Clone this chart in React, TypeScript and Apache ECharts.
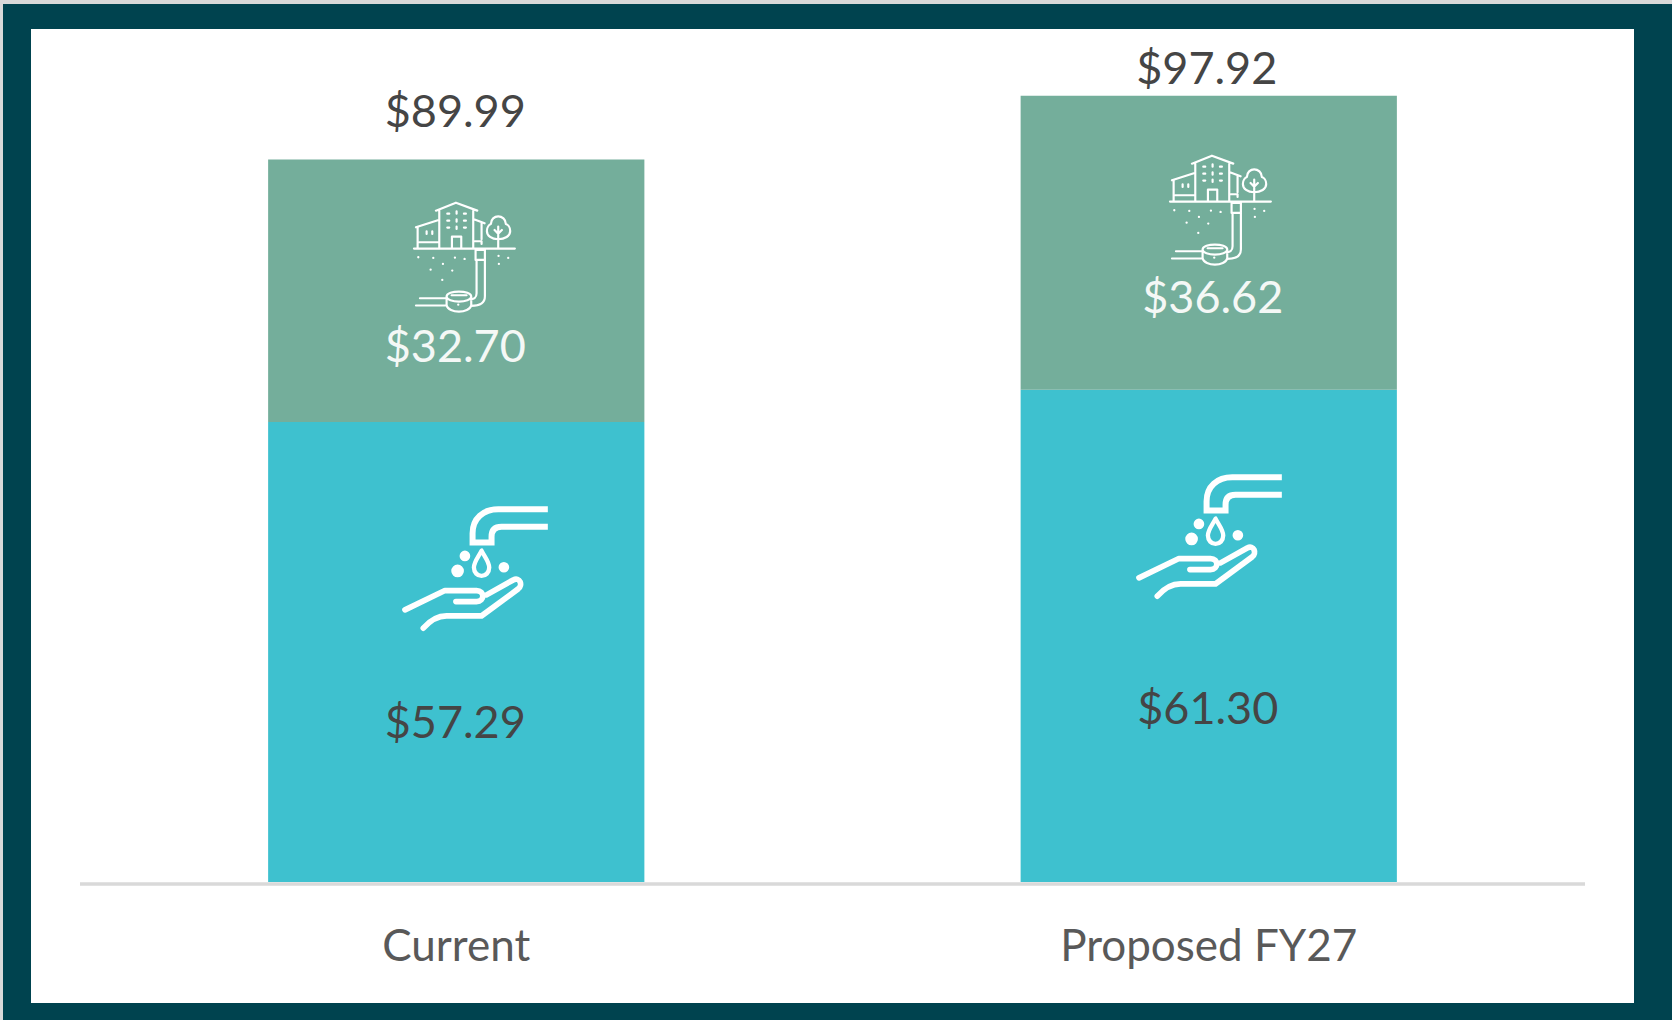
import React, { useEffect, useRef } from "react";
import * as echarts from "echarts";

const categories = ["Current", "Proposed FY27"];
const customerValues = [57.29, 61.3];
const infrastructureValues = [32.7, 36.62];
const totalValues = [89.99, 97.92];

const customerOffsets = [[-1, 69], [-1, 71]];
const infrastructureOffsets = [[-1, 54], [4, 53]];
const totalOffsets = [[-1, -21], [-2, -1]];

const money = (v: number) => "$" + v.toFixed(2);
const FONT = "Lato";
const SIZE = 45;

const dots = [
  [115, 232], [160, 234], [225, 233], [254, 237], [189, 252], [152, 269], [217, 272], [187, 300],
  [356, 228], [385, 234], [357, 252], [235, 374],
];
const circleD = (x: number, y: number, r: number) =>
  `M${x - r} ${y}a${r} ${r} 0 1 0 ${2 * r} 0a${r} ${r} 0 1 0 ${-2 * r} 0Z`;

const buildingLines =
  "M102 206H405 M168 92L228 68L292 92 M178 92V204 M280 92V204 M216 204V170H244V204 " +
  "M202 101H208 M230 94V101 M252 101H258 M202 122H208 M230 118V125 M252 122H258 M202 143H208 M230 140V147 M252 143H258 " +
  "M108 142L176 120 M113 142V204 M140 154V162 M157 154V162 M118 187H176 M282 118L314 130 M305 130V178 M285 184H305V192 " +
  "M355 205V140 M344 150L355 161L366 150 " +
  "M355 178C335 178 321 168 321 153C321 142 328 134 333 132C333 118 344 109 355 109C366 109 378 118 378 132C384 134 391 142 391 153C391 168 375 178 355 178Z " +
  "M287 210H315V240H287Z M290 240V340C290 355 282 358 268 358 M315 240V350C315 370 300 378 274 378 " +
  "M120 355H200 M108 377H200 M200 350C200 330 274 330 274 350C274 370 200 370 200 350Z M200 350V376C206 402 268 402 274 376V350 M215 346H260";
const buildingDots = dots.map(([x, y]) => circleD(x, y, 3.5)).join(" ");

const faucet = "M504 58H355C310 58 278 85 278 130V158H335V140C335 120 345 110 365 110H504";
const drop = "M305 182C295 202 282 215 282 233C282 248 293 258 305 258C317 258 328 248 328 233C328 215 315 202 305 182Z";
const hand =
  "M75 360L195 302H290C315 302 315 335 290 335H228 M320 315L400 270C420 260 430 285 415 297L305 378H200C175 378 150 392 130 415";
const tapDots = [circleD(255, 198, 16), circleD(233, 243, 19), circleD(372, 232, 16)].join(" ");

echarts.graphic.registerShape("buildingLines", echarts.graphic.extendPath(buildingLines, {}));
echarts.graphic.registerShape("buildingDots", echarts.graphic.extendPath(buildingDots, {}));
echarts.graphic.registerShape("faucet", echarts.graphic.extendPath(faucet, {}));
echarts.graphic.registerShape("drop", echarts.graphic.extendPath(drop, {}));
echarts.graphic.registerShape("hand", echarts.graphic.extendPath(hand, {}));
echarts.graphic.registerShape("tapDots", echarts.graphic.extendPath(tapDots, {}));

const S = 1 / 3;
const Z = 100;
const strokeEl = (type: string, lineWidth: number) => ({
  type, scaleX: S, scaleY: S, silent: true, z: Z,
  style: { fill: "none", stroke: "#ffffff", lineWidth, lineCap: "round", lineJoin: "round" },
});
const fillEl = (type: string) => ({
  type, scaleX: S, scaleY: S, silent: true, z: Z, style: { fill: "#ffffff", stroke: "none" },
});
const buildingIcon = (x: number, y: number) => ({
  type: "group", x, y, z: Z,
  children: [strokeEl("buildingLines", 6.5), fillEl("buildingDots")],
});
const tapIcon = (x: number, y: number) => ({
  type: "group", x, y, z: Z,
  children: [
    { ...strokeEl("faucet", 18), style: { fill: "none", stroke: "#ffffff", lineWidth: 18, lineCap: "butt", lineJoin: "miter" } },
    strokeEl("drop", 13),
    strokeEl("hand", 17),
    fillEl("tapDots"),
  ],
});

export default function App() {
  const ref = useRef<HTMLDivElement>(null);
  useEffect(() => {
    const chart = echarts.init(ref.current!, null, { renderer: "svg" });
    chart.setOption({
      animation: false,
      backgroundColor: "transparent",
      textStyle: { fontFamily: FONT },
      grid: { left: 80, right: 87, top: 79, bottom: 138 },
      xAxis: {
        type: "category",
        data: categories,
        offset: 2,
        axisTick: { show: false },
        axisLine: { onZero: false, lineStyle: { color: "#d9d9d9", width: 3.5, cap: "butt" } },
        axisLabel: { color: "#595959", fontSize: 44, fontFamily: FONT, margin: 38 },
      },
      yAxis: { type: "value", min: 0, max: 100, show: false },
      series: [
        {
          name: "Customer",
          type: "bar",
          stack: "total",
          barWidth: "50%",
          itemStyle: { color: "#3EC1CF" },
          data: customerValues.map((value, i) => ({
            value,
            label: { offset: customerOffsets[i] },
          })),
          label: {
            show: true, position: "inside", color: "#454545", fontSize: SIZE, fontFamily: FONT,
            formatter: (p: any) => money(p.value),
          },
        },
        {
          name: "Infrastructure",
          type: "bar",
          stack: "total",
          itemStyle: { color: "#74AE9B" },
          data: infrastructureValues.map((value, i) => ({
            value,
            label: { offset: infrastructureOffsets[i] },
          })),
          label: {
            show: true, position: "inside", color: "#f4f8f6", fontSize: SIZE, fontFamily: FONT,
            formatter: (p: any) => money(p.value),
          },
        },
        {
          name: "Total",
          type: "line",
          symbol: "circle",
          symbolSize: 1,
          showSymbol: true,
          showAllSymbol: true,
          itemStyle: { color: "rgba(0,0,0,0)" },
          lineStyle: { opacity: 0 },
          data: totalValues.map((value, i) => ({
            value,
            label: { offset: totalOffsets[i] },
          })),
          label: {
            show: true, position: "top", color: "#454545", fontSize: SIZE, fontFamily: FONT,
            formatter: (p: any) => money(p.value),
          },
        },
      ],
      graphic: {
        z: Z,
        elements: [
          buildingIcon(380, 180),
          buildingIcon(1136, 133),
          tapIcon(380, 490),
          tapIcon(1114, 458),
        ],
      },
    });
    return () => chart.dispose();
  }, []);
  return (
    <div style={{ position: "fixed", left: 0, top: 0, width: 1672, height: 1020, background: "#d9d9d9", overflow: "hidden" }}>
      <div style={{ position: "absolute", left: 3, top: 4, width: 1669, height: 1016, background: "#00434F" }} />
      <div style={{ position: "absolute", left: 31, top: 29, width: 1603, height: 974, background: "#ffffff" }} />
      <div ref={ref} style={{ position: "absolute", left: 0, top: 0, width: 1672, height: 1020 }} />
    </div>
  );
}
